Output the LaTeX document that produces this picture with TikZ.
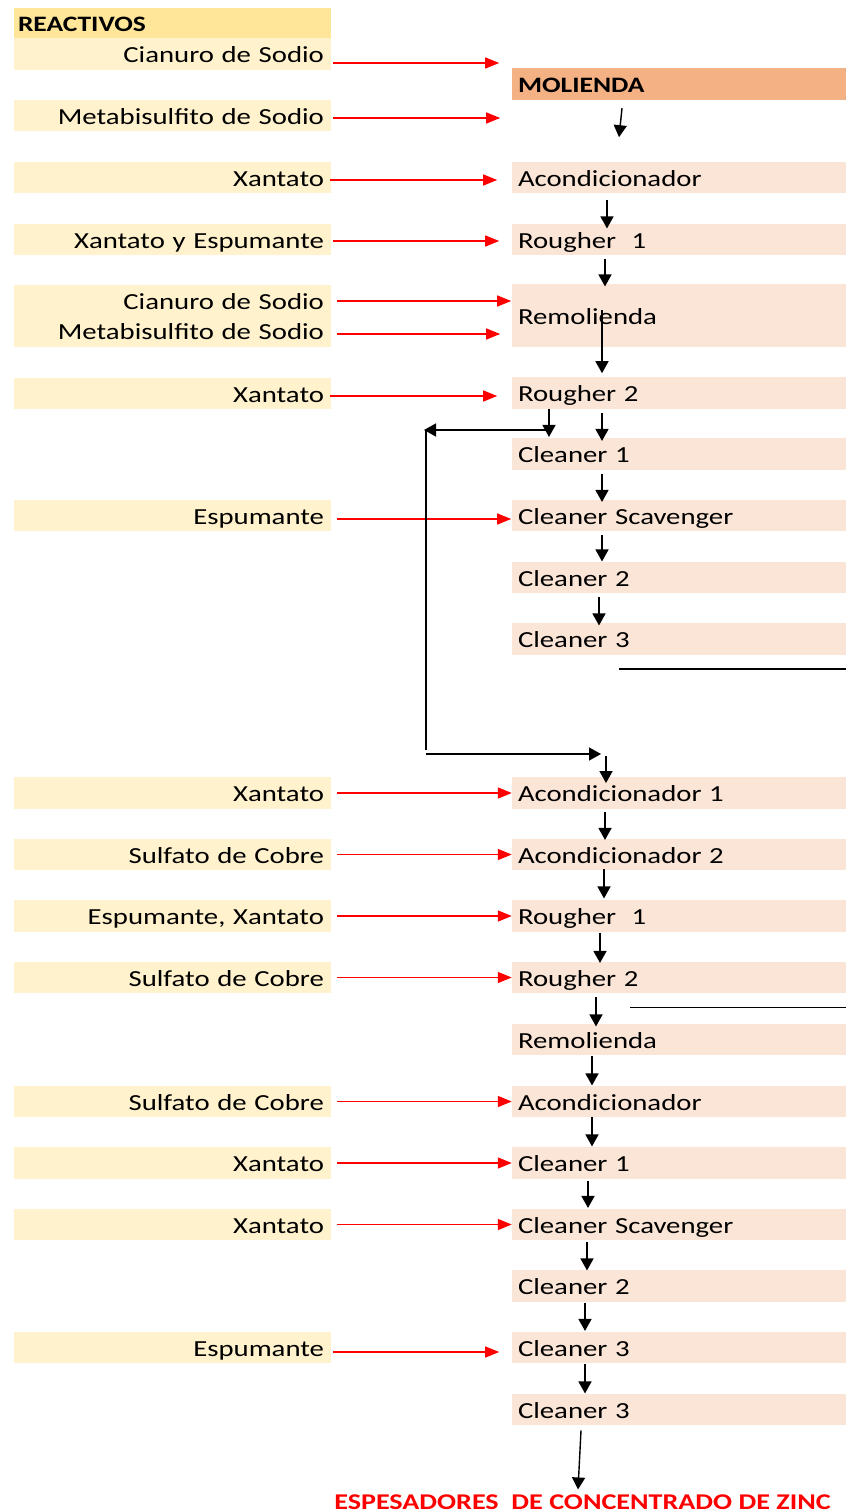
\documentclass[tikz,border=0pt]{standalone}
\usepackage{fontspec}
\setmainfont{Carlito}[FakeStretch=1.25]
\usetikzlibrary{arrows.meta}
\definecolor{hdfill}{HTML}{FFE699}
\definecolor{refill}{HTML}{FFF2CC}
\definecolor{molfill}{HTML}{F4B183}
\definecolor{prfill}{HTML}{FBE5D6}
\definecolor{rojo}{HTML}{FF0000}
\tikzset{
 reac/.style={fill=refill, text width=303pt, align=right, inner xsep=7pt, inner ysep=0pt, minimum height=31.5pt, text height=17pt, text depth=0pt, font=\fontsize{23pt}{30pt}\selectfont},
 proc/.style={fill=prfill, text width=322pt, align=left, inner xsep=6pt, inner ysep=0pt, minimum height=31.5pt, text height=17pt, text depth=0pt, font=\fontsize{23pt}{30pt}\selectfont},
 ra/.style={draw=rojo, line width=1.4pt, -{Triangle[length=14pt,width=11pt]}},
 ba/.style={draw=black, line width=1.4pt, -{Triangle[length=12pt,width=13pt]}},
 bl/.style={draw=black, line width=1.1pt},
}
\begin{document}
\begin{tikzpicture}[x=1pt,y=-1pt]
\useasboundingbox (0,0) rectangle (846,1512);
% left column
\node[reac, fill=hdfill, align=left, text width=309pt, inner xsep=4pt, minimum height=30pt, font=\fontsize{22pt}{26pt}\selectfont\bfseries] (hd) at (172.5,23) {REACTIVOS};
\node[reac, minimum height=32pt] (r1) at (172.5,54) {Cianuro de Sodio\hspace*{19pt}};
\node[reac] (r2) at (172.5,115.5) {Metabisulfito de Sodio};
\node[reac] (r3) at (172.5,177.5) {Xantato};
\node[reac] (r4) at (172.5,239.5) {Xantato y Espumante};
\node[reac, minimum height=62pt, text height=19pt, text depth=33pt] (r5) at (172.5,316) {Cianuro de Sodio\hspace*{19pt}\\Metabisulfito de Sodio};
\node[reac] (r6) at (172.5,393.5) {Xantato};
\node[reac] (r7) at (172.5,515.5) {Espumante};
\node[reac] (r8) at (172.5,793) {Xantato};
\node[reac] (r9) at (172.5,854.5) {Sulfato de Cobre};
\node[reac] (r10) at (172.5,916) {Espumante, Xantato};
\node[reac] (r11) at (172.5,977.5) {Sulfato de Cobre};
\node[reac] (r12) at (172.5,1101.5) {Sulfato de Cobre};
\node[reac] (r13) at (172.5,1163) {Xantato};
\node[reac] (r14) at (172.5,1224.5) {Xantato};
\node[reac] (r15) at (172.5,1347.5) {Espumante};
% right column
\node[proc, fill=molfill, minimum height=32pt, font=\fontsize{22pt}{26pt}\selectfont\bfseries] (p0) at (679,84) {MOLIENDA};
\node[proc] (p1) at (679,177.5) {Acondicionador};
\node[proc] (p2) at (679,239.5) {Rougher~~1};
\node[proc, minimum height=63pt] (p3) at (679,315.5) {Remolienda};
\node[proc] (p4) at (679,393) {Rougher 2};
\node[proc] (p5) at (679,454) {Cleaner 1};
\node[proc] (p6) at (679,515.5) {Cleaner Scavenger};
\node[proc] (p7) at (679,577.5) {Cleaner 2};
\node[proc] (p8) at (679,639) {Cleaner 3};
\node[proc] (q1) at (679,793) {Acondicionador 1};
\node[proc] (q2) at (679,854.5) {Acondicionador 2};
\node[proc] (q3) at (679,916) {Rougher~~1};
\node[proc] (q4) at (679,977.5) {Rougher 2};
\node[proc] (q5) at (679,1039.5) {Remolienda};
\node[proc] (q6) at (679,1101.5) {Acondicionador};
\node[proc] (q7) at (679,1163) {Cleaner 1};
\node[proc] (q8) at (679,1224.5) {Cleaner Scavenger};
\node[proc] (q9) at (679,1286) {Cleaner 2};
\node[proc] (q10) at (679,1347.5) {Cleaner 3};
\node[proc] (q11) at (679,1409.5) {Cleaner 3};
\node[font=\fontsize{22.5pt}{26pt}\selectfont\bfseries, text=rojo, inner sep=0pt] (esp) at (582.5,1502) {ESPESADORES~~DE CONCENTRADO DE ZINC};
% red arrows
\draw[ra] ([shift={(2,9)}]r1.east) -- ++(166,0);
\draw[ra] ([shift={(2,2.5)}]r2.east) -- ++(167,0);
\draw[ra] ([shift={(-1,2.5)}]r3.east) -- ++(167,0);
\draw[ra] ([shift={(2,1.5)}]r4.east) -- ++(166,0);
\draw[ra] ([shift={(6,-15)}]r5.east) -- ++(174,0);
\draw[ra] ([shift={(6,18)}]r5.east) -- ++(163,0);
\draw[ra] ([shift={(-1,2.5)}]r6.east) -- ++(167,0);
\draw[ra] ([shift={(6,3.5)}]r7.east) -- ++(174,0);
\draw[ra, shorten <=6pt] (r8.east) -- (q1.west);
\draw[ra, shorten <=6pt] (r9.east) -- (q2.west);
\draw[ra, shorten <=6pt] (r10.east) -- (q3.west);
\draw[ra, shorten <=6pt] (r11.east) -- (q4.west);
\draw[ra, shorten <=6pt] (r12.east) -- (q6.west);
\draw[ra, shorten <=6pt] (r13.east) -- (q7.west);
\draw[ra, shorten <=6pt] (r14.east) -- (q8.west);
\draw[ra] ([shift={(2,4.5)}]r15.east) -- ++(166,0);
% black arrows, upper chain
\draw[ba] ([shift={(-57,8)}]p0.south) -- ++(-3,29);
\draw[ba] ([shift={(-72,7)}]p1.south) -- ++(0,28);
\draw[ba] ([shift={(-74,4)}]p2.south) -- ++(0,27);
\draw[ba] ([shift={(-77,-37)}]p3.south) -- ++(0,63);
\draw[ba] ([shift={(-130,0)}]p4.south) -- ++(0,28);
\draw[ba] ([shift={(-77,4)}]p4.south) -- ++(0,28);
\draw[ba] ([shift={(-77,4)}]p5.south) -- ++(0,28);
\draw[ba] ([shift={(-77,4)}]p6.south) -- ++(0,26);
\draw[ba] ([shift={(-80,4)}]p7.south) -- ++(0,28);
\draw[bl] ([shift={(-60,14)}]p8.south) -- ++(227,0);
% feedback loop
\coordinate (fb1) at (549,430);
\coordinate (fb2) at (424,430);
\coordinate (fb3) at (426,430);
\coordinate (fb4) at (426,750);
\coordinate (fb5) at (426,754);
\coordinate (fb6) at (601,754);
\draw[ba] (fb1) -- (fb2);
\draw[bl] (fb3) -- (fb4);
\draw[ba] (fb5) -- (fb6);
% black arrows, lower chain
\draw[ba] ([shift={(-73,-21)}]q1.north) -- ++(0,27);
\draw[ba] ([shift={(-74,3)}]q1.south) -- ++(0,28);
\draw[ba] ([shift={(-75,-1)}]q2.south) -- ++(0,29);
\draw[ba] ([shift={(-79,1)}]q3.south) -- ++(0,30);
\draw[ba] ([shift={(-83,4)}]q4.south) -- ++(0,29);
\draw[bl] ([shift={(-49,14)}]q4.south) -- ++(216,0);
\draw[ba] ([shift={(-87,1)}]q5.south) -- ++(0,29);
\draw[ba] ([shift={(-87,0)}]q6.south) -- ++(0,29);
\draw[ba] ([shift={(-91,2)}]q7.south) -- ++(0,27);
\draw[ba] ([shift={(-92,2)}]q8.south) -- ++(0,28);
\draw[ba] ([shift={(-94,1)}]q9.south) -- ++(0,28);
\draw[ba] ([shift={(-94,1)}]q10.south) -- ++(0,29);
\draw[ba] ([shift={(-98,5)}]q11.south) -- ++(-3,59);
\end{tikzpicture}
\end{document}
